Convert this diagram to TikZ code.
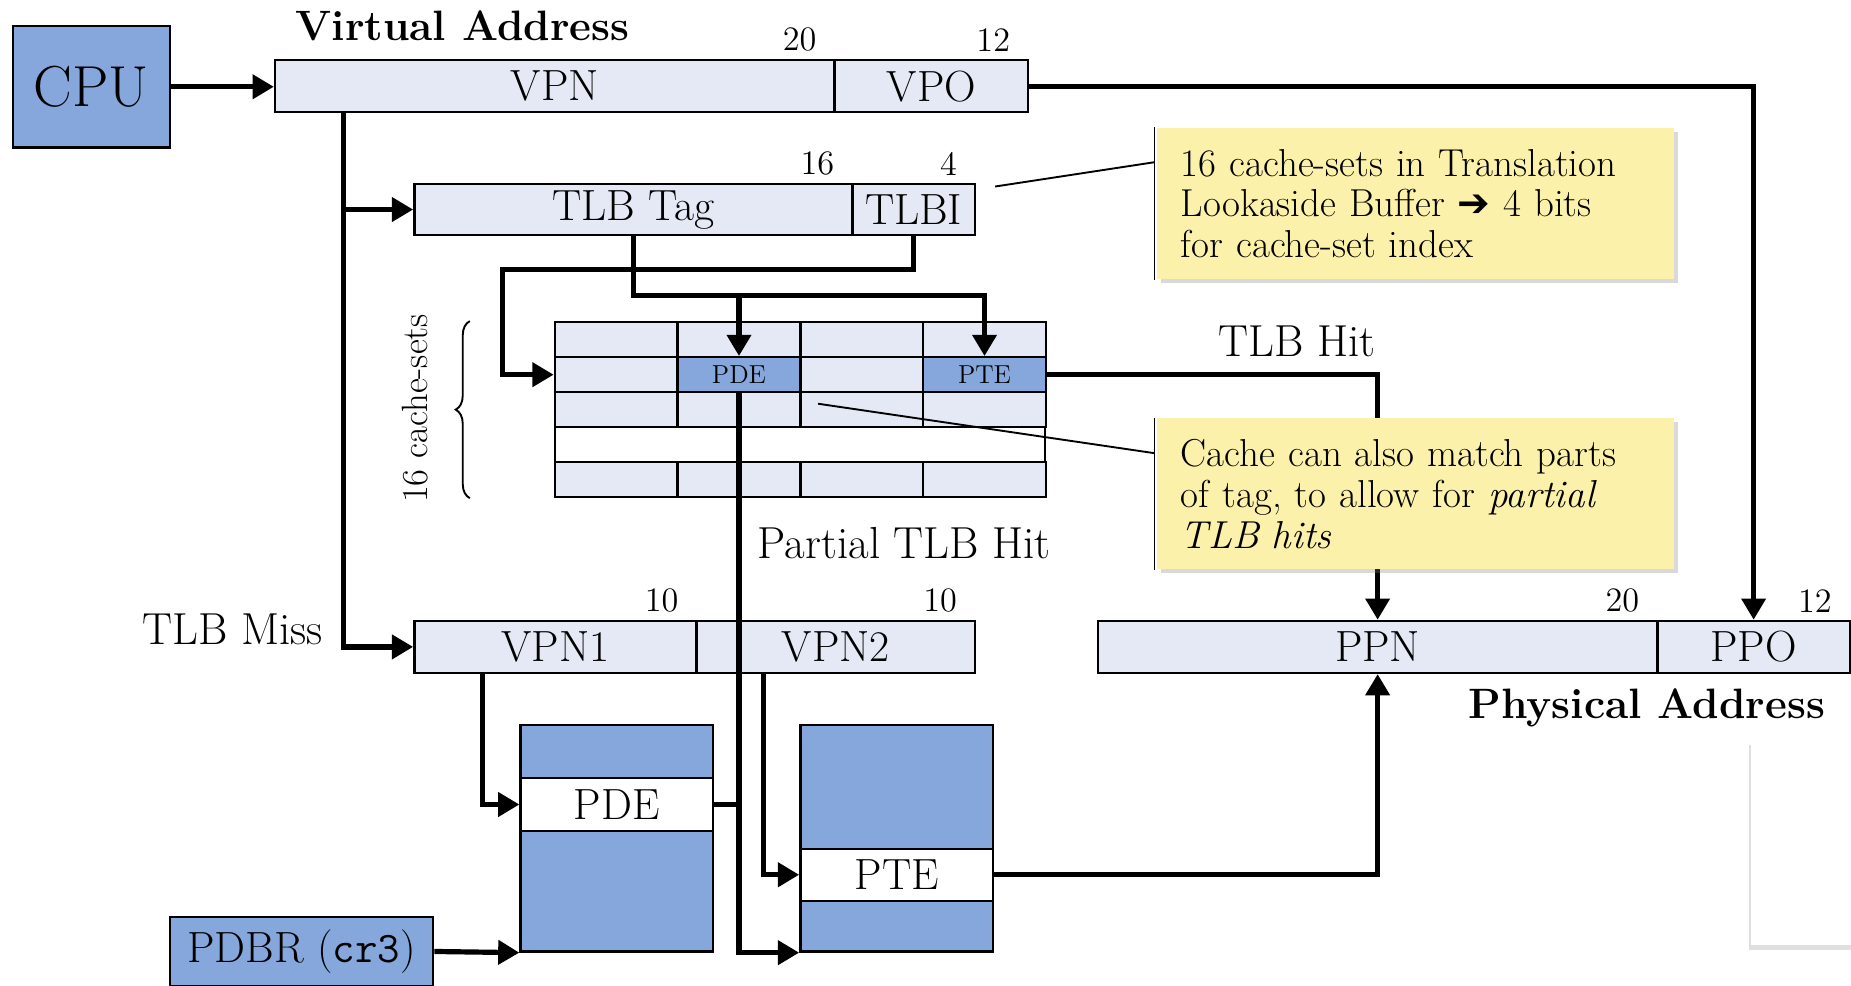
\documentclass[tikz,border=0pt]{standalone}
\usepackage{fontspec}
\newfontfamily\dingfont{DejaVu Sans}
\usepackage{tikz}
\usetikzlibrary{positioning}
\usetikzlibrary{arrows.meta,decorations.pathreplacing,shadows}
\definecolor{regblue}{RGB}{133,167,219}
\definecolor{fieldfill}{RGB}{228,233,245}
\definecolor{noteyellow}{RGB}{251,241,170}
\tikzstyle{field} = [draw, line width=1pt, fill=fieldfill, anchor=north west, inner sep=0pt, minimum height=22pt, font=\fontsize{18.5}{20}\selectfont]
\tikzstyle{regbox} = [draw, line width=1pt, fill=regblue, anchor=north west, inner sep=0pt, minimum width=81.5pt]
\tikzstyle{entry} = [regbox, fill=white, font=\fontsize{18.5}{20}\selectfont]
\tikzstyle{cell} = [draw, line width=1pt, fill=fieldfill, anchor=north west, inner sep=0pt, minimum width=52pt, minimum height=14.8pt]
\tikzstyle{hitcell} = [cell, fill=regblue, font=\fontsize{11}{12}\selectfont]
\tikzstyle{bits} = [anchor=south east, inner sep=0pt, xshift=-8pt, yshift=3pt, font=\fontsize{14.5}{16}\selectfont]
\tikzstyle{heading} = [inner sep=0pt, font=\fontsize{18}{20}\selectfont\bfseries]
\tikzstyle{label} = [inner sep=0pt, font=\fontsize{19}{21}\selectfont]
\tikzstyle{note} = [fill=noteyellow, anchor=north west, minimum width=219pt, minimum height=64pt, text width=199pt, align=left, inner xsep=10pt, font=\fontsize{16.5}{17.25}\selectfont, drop shadow={opacity=0.3, shadow xshift=1.5pt, shadow yshift=-1.5pt}]
\tikzstyle{feed} = [draw, line width=2.2pt, -{Triangle[length=9pt, width=10pt]}]
\tikzstyle{bus} = [draw, line width=2.2pt]
\tikzstyle{pointer} = [draw, line width=0.8pt]

\begin{document}
\begin{tikzpicture}[x=0.5pt, y=-0.5pt]
	\useasboundingbox (0,0) rectangle (1568,835);

	% registers and address fields
	\node [regbox, minimum width=66.5pt, minimum height=51.5pt, font=\fontsize{24.5}{26}\selectfont] (cpu) at (10,21) {CPU};
	\node [field, minimum width=237pt] (vpn) at (232,50) {VPN};
	\node [field, minimum width=82pt]  (vpo) at (706,50) {VPO};
	\node [field, minimum width=185.5pt, minimum height=21.5pt] (tlbtag) at (350,155) {TLB Tag};
	\node [field, minimum width=52pt, minimum height=21.5pt]    (tlbi)   at (721,155) {TLBI};
	\node [field, minimum width=119.5pt] (vpn1) at (350,525) {VPN1};
	\node [field, minimum width=118pt]   (vpn2) at (589,525) {VPN2};
	\node [field, minimum width=237pt]   (ppn)  at (929,525) {PPN};
	\node [field, minimum width=81.5pt]  (ppo)  at (1403,525) {PPO};
	\node [regbox, minimum width=111.5pt, minimum height=29pt, font=\fontsize{18.5}{20}\selectfont] (pdbr) at (143,776) {PDBR (\texttt{cr3})};

	% bit counts
	\node [bits] at (vpn.north east)    {20};
	\node [bits] at (vpo.north east)    {12};
	\node [bits] at (tlbtag.north east) {16};
	\node [bits] at (tlbi.north east)   {4};
	\node [bits] at (vpn1.north east)   {10};
	\node [bits] at (vpn2.north east)   {10};
	\node [bits] at (ppn.north east)    {20};
	\node [bits] at (ppo.north east)    {12};

	% TLB sets
	\foreach \r in {0,1,2,4}
		\foreach \c in {0,...,3}
			\node [cell] (c-\r-\c) at ({469+\c*104},{272+\r*29.6}) {};
	\node [cell, fill=white, minimum width=207.5pt] (gap) at (469,360.8) {};
	\node [hitcell] (pde-c) at (573,301.6) {PDE};
	\node [hitcell] (pte-c) at (781,301.6) {PTE};
	\draw [decorate, decoration={brace, amplitude=6pt}, line width=0.8pt]
		([xshift=-35.5pt]c-4-0.south west) -- ([xshift=-35.5pt]c-0-0.north west);

	% page directory and page table
	\node [regbox, minimum height=22.5pt] (pdtop) at (440,613) {};
	\node [entry, minimum height=22.5pt]  (pde)   at (440,658) {PDE};
	\node [regbox, minimum height=51pt]   (pdbot) at (440,703) {};
	\node [regbox, minimum height=52.5pt] (pttop) at (677,613) {};
	\node [entry, minimum height=22pt]    (pte)   at (677,718) {PTE};
	\node [regbox, minimum height=21.5pt] (ptbot) at (677,762) {};

	% texts
	\node [heading, anchor=west] (va-label) at (250,22) {Virtual Address};
	\node [heading] (pa-label) at (1395,600) {Physical Address};
	\node [label] (hit-label)     at (1099,289) {TLB Hit};
	\node [label] (partial-label) at (766,460)  {Partial TLB Hit};
	\node [label] (miss-label)    at (197,533)  {TLB Miss};
	\node [inner sep=0pt, rotate=90, font=\fontsize{15.5}{16}\selectfont] (sets-label) at (352,346) {16 cache-sets};

	% draw edges
	\path [feed] (cpu.east) -- (cpu.east -| vpn.west);
	\path [feed] (vpo.east) -| (ppo.north);
	\path [feed] (vpn.south west) ++(59,0) |- (tlbtag.west);
	\path [feed] (vpn.south west) ++(59,0) |- (vpn1.west);
	\path [feed] (tlbtag.south) -- ++(0,50) -| (pde-c.north);
	\path [feed] (tlbtag.south) -- ++(0,50) -| (pte-c.north);
	\path [feed] (tlbi.south) -- ++(0,28) -- ++(-348,0) |- (c-1-0.west);
	\path [feed] (pte-c.east) -| (ppn.north);
	\path [feed] (pde-c.south) |- (ptbot.south west);
	\path [bus]  (pde.east) -- (pde.east -| pde-c.south);
	\path [feed] (vpn1.south west) ++(59,0) |- (pde.west);
	\path [feed] (vpn2.south west) ++(58,0) |- (pte.west);
	\path [feed] (pte.east) -| (ppn.south);
	\path [feed] (pdbr.east) -- (pdbot.south west);

	% notes
	\node [note] (note1) at (980,108) {16 cache-sets in Translation\\ Lookaside Buffer {\dingfont ➔} 4 bits\\ for cache-set index};
	\node [note] (note2) at (980,354) {Cache can also match parts\\ of tag, to allow for \textit{partial}\\ \textit{TLB hits}};
	\draw [pointer] ([xshift=-1pt]note1.north west) -- ([xshift=-1pt]note1.south west);
	\draw [pointer] ([xshift=-1pt]note2.north west) -- ([xshift=-1pt]note2.south west);
	\coordinate (tlbi-tip) at (843,158);
	\coordinate (set-tip) at (693,342);
	\draw [pointer] (tlbi-tip) -- ([xshift=-1pt, yshift=17.5pt]note1.west);
	\draw [pointer] (set-tip) -- ([xshift=-1pt, yshift=17.25pt]note2.west);

	% blank sheet, bottom right
	\node [fill=white, anchor=north west, minimum width=50pt, minimum height=86.5pt, drop shadow={opacity=0.25, shadow xshift=-1pt, shadow yshift=-2pt}] (blank) at (1483,627) {};
\end{tikzpicture}
\end{document}
